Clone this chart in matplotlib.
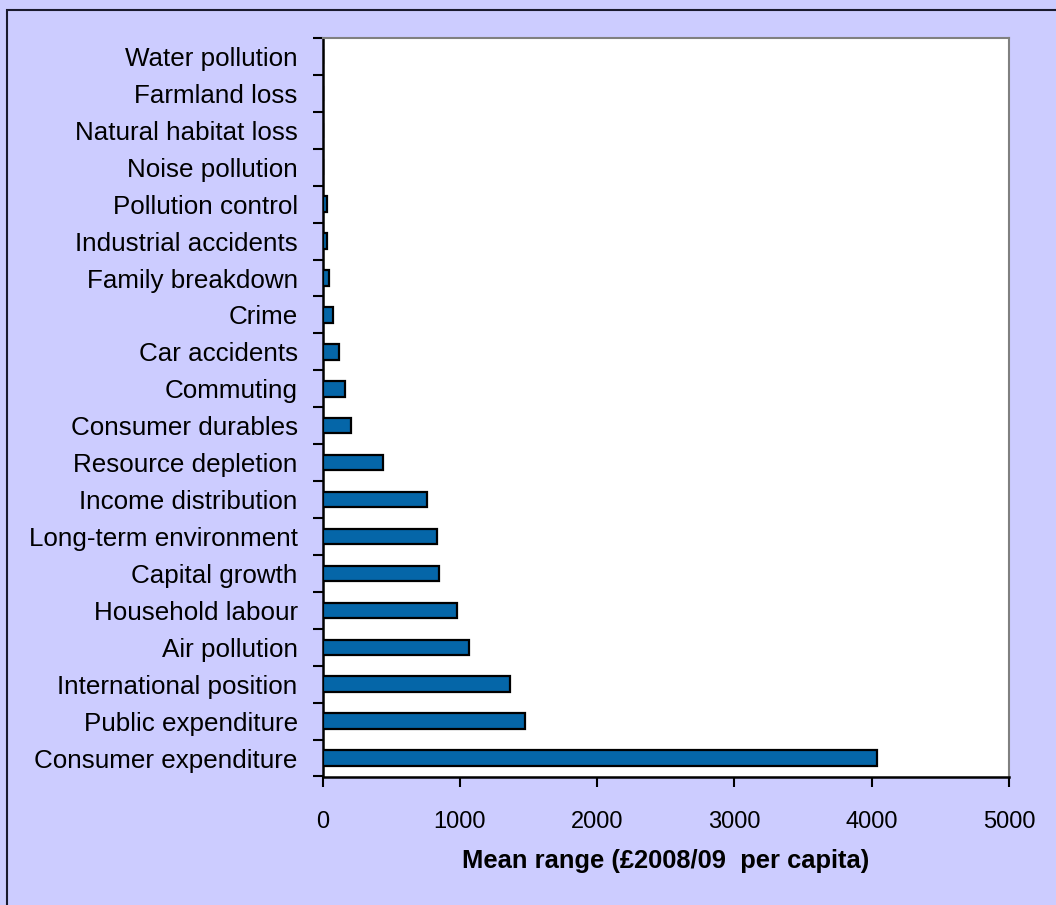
import matplotlib
matplotlib.use("Agg")
import matplotlib.pyplot as plt
from matplotlib.patches import Rectangle
from matplotlib.ticker import FixedLocator

plt.rcParams['font.family'] = ['Liberation Sans', 'DejaVu Sans']

categories = [
    "Consumer expenditure", "Public expenditure", "International position",
    "Air pollution", "Household labour", "Capital growth",
    "Long-term environment", "Income distribution", "Resource depletion",
    "Consumer durables", "Commuting", "Car accidents", "Crime",
    "Family breakdown", "Industrial accidents", "Pollution control",
    "Noise pollution", "Natural habitat loss", "Farmland loss", "Water pollution",
]
values = [4040, 1472, 1367, 1064, 976, 845, 830, 758, 437, 204, 160, 119, 75,
          46, 31, 31, 0, 0, 0, 0]
xticks = [0, 1000, 2000, 3000, 4000, 5000]
xlabel = "Mean range (£2008/09  per capita)"

W, H = 1056, 905
fig = plt.figure(figsize=(W / 100, H / 100), dpi=100)
fig.patch.set_facecolor("#CCCCFF")

# figure frame
fig.patches.append(Rectangle((7 / W, -0.05), 1.2, 1 - 10.5 / H + 0.05,
                             transform=fig.transFigure, fill=False,
                             edgecolor="#1a1a2e", linewidth=1.5, zorder=0))

left, right = 322.7 / W, 1009 / W
top, bottom = 1 - 38 / H, 1 - 776.5 / H
ax = fig.add_axes([left, bottom, right - left, top - bottom])
ax.set_facecolor("white")

y = list(range(len(categories)))
ax.barh(y, values, height=0.42, color="#0566A8", edgecolor="black",
        linewidth=1.6, zorder=3)

ax.set_xlim(0, 5000)
ax.set_ylim(-0.5, len(categories) - 0.5)

ax.set_yticks(y)
ax.set_yticklabels(categories, fontsize=18.7)
ax.tick_params(axis="y", which="major", length=0, pad=18)
ax.yaxis.set_minor_locator(FixedLocator([i - 0.5 for i in range(len(categories) + 1)]))
ax.tick_params(axis="y", which="minor", length=7.5, width=1.5, direction="out")

ax.set_xticks(xticks)
ax.set_xticklabels([str(v) for v in xticks], fontsize=17)
ax.tick_params(axis="x", which="major", length=7.5, width=1.5, direction="out", pad=17)

ax.set_xlabel(xlabel, fontsize=18.4, fontweight="bold", labelpad=12)

for side in ("left", "bottom"):
    ax.spines[side].set_color("black")
    ax.spines[side].set_linewidth(1.8)
for side in ("top", "right"):
    ax.spines[side].set_color("#808080")
    ax.spines[side].set_linewidth(1.5)

fig.savefig("out.png", dpi=100, facecolor=fig.get_facecolor())
